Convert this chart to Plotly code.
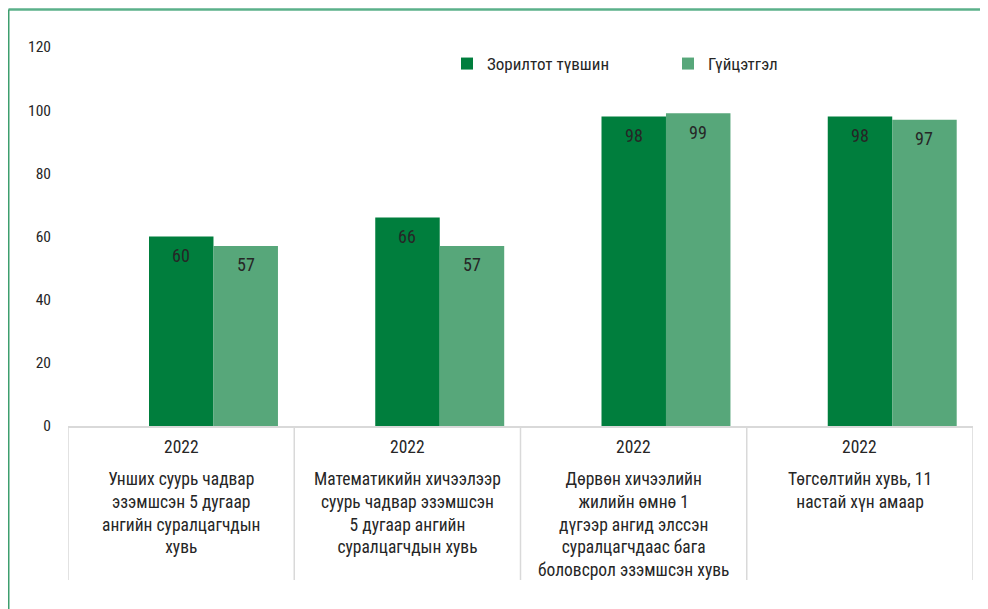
import plotly.graph_objects as go

years = ["2022", "2022", "2022", "2022"]
categories = [
    "Унших суурь чадвар<br>эзэмшсэн 5 дугаар<br>ангийн суралцагчдын<br>хувь",
    "Математикийн хичээлээр<br>суурь чадвар эзэмшсэн<br>5 дугаар ангийн<br>суралцагчдын хувь",
    "Дөрвөн хичээлийн<br>жилийн өмнө 1<br>дүгээр ангид элссэн<br>суралцагчдаас бага<br>боловсрол эзэмшсэн хувь",
    "Төгсөлтийн хувь, 11<br>настай хүн амаар",
]
target = [60, 66, 98, 98]
actual = [57, 57, 99, 97]
series_names = ["Зорилтот түвшин", "Гүйцэтгэл"]
y_ticks = [0, 20, 40, 60, 80, 100, 120]

FONT = "Liberation Sans Narrow, Roboto Condensed, Arial Narrow, Roboto, sans-serif"
TXT = "#262626"
OFF = 8  # page body margin
W, H = 980, 601
L, R, T, B = 60, 15, 39, 183
pw, ph = W - L - R, H - T - B

def fx(sx):
    return (sx - OFF - L) / pw

def fy(sy):
    return (H - B - (sy - OFF)) / ph

xs = list(range(len(categories)))
BW = 0.285
offsets = [-0.142, 0.143]
colors = ["#007E3D", "#57A77A"]

fig = go.Figure()
for name, vals, off, col in zip(series_names, [target, actual], offsets, colors):
    fig.add_trace(go.Bar(x=xs, y=vals, name=name, marker_color=col,
                         width=BW, offset=off, marker_line_width=0))

annotations = []
for vals, off in zip([target, actual], offsets):
    for i, v in enumerate(vals):
        annotations.append(dict(x=i + off + BW / 2, xref="x", y=v, yref="y", text=str(v),
                                showarrow=False, xanchor="center", yanchor="middle", yshift=-19,
                                font=dict(size=18, color=TXT, family=FONT)))

shapes = []
for b in [-0.5, 0.5, 1.5, 2.5, 3.5]:
    shapes.append(dict(type="line", xref="x", yref="paper", x0=b, x1=b,
                       y0=0, y1=fy(580), line=dict(color="#D9D9D9", width=1.5)))
# green frame (top and left)
shapes.append(dict(type="line", xref="paper", yref="paper", x0=fx(8.5), x1=fx(988),
                   y0=fy(9.5), y1=fy(9.5), line=dict(color="#5BB08A", width=2.5)))
shapes.append(dict(type="line", xref="paper", yref="paper", x0=fx(8.5), x1=fx(8.5),
                   y0=fy(9.5), y1=fy(609), line=dict(color="#3E9E6E", width=2)))

for i, (yr, cat) in enumerate(zip(years, categories)):
    annotations.append(dict(x=i, xref="x", y=fy(447), yref="paper", text=yr,
                            showarrow=False, xanchor="center", yanchor="middle",
                            font=dict(size=17.5, color=TXT, family=FONT)))
    annotations.append(dict(x=i, xref="x", y=fy(467), yref="paper", text=cat,
                            showarrow=False, xanchor="center", yanchor="top", align="center",
                            font=dict(size=17.5, color=TXT, family=FONT)))

fig.update_layout(
    width=W, height=H,
    margin=dict(l=L, r=R, t=T, b=B),
    plot_bgcolor="white", paper_bgcolor="white",
    barmode="overlay",
    showlegend=True,
    legend=dict(orientation="h", x=fx(447), y=fy(46), xanchor="left", yanchor="top",
                font=dict(size=17, color=TXT, family=FONT),
                entrywidth=176, entrywidthmode="pixels", itemwidth=30,
                bgcolor="rgba(0,0,0,0)"),
    xaxis=dict(range=[-0.5, 3.5], showticklabels=False, ticks="", showgrid=False,
               showline=True, linecolor="#D9D9D9", linewidth=1.5, zeroline=False,
               tickvals=xs),
    yaxis=dict(range=[0, 120], tickvals=y_ticks, showgrid=False, zeroline=False,
               showline=False, ticks="", ticklabelstandoff=16,
               tickfont=dict(size=15.5, color=TXT, family=FONT)),
    shapes=shapes,
    annotations=annotations,
    font=dict(family=FONT),
)

fig.write_html("out.html")
